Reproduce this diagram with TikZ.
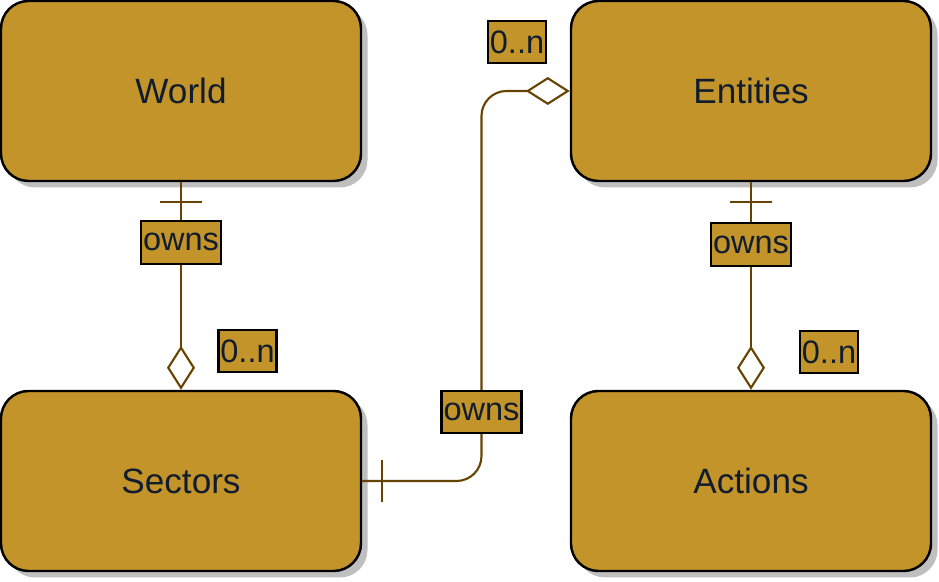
\documentclass[tikz,border=0pt]{standalone}
\usepackage{fontspec}
\setmainfont{Liberation Sans}
\usetikzlibrary{positioning, arrows.meta, shadows}
\definecolor{gold}{HTML}{C39429}
\definecolor{erbrown}{HTML}{664400}
\definecolor{ink}{HTML}{111D2E}

\begin{document}
\begin{tikzpicture}[
    entity/.style={rectangle, rounded corners=0.55cm, draw=black, line width=1.4pt, fill=gold,
        minimum width=7.2cm, minimum height=3.6cm, text=ink, font=\fontsize{20}{24}\selectfont,
        drop shadow={shadow xshift=0.13cm, shadow yshift=-0.13cm, fill=black!25, opacity=1}},
    lbl/.style={rectangle, draw=black, line width=1.3pt, fill=gold, text=ink,
        font=\fontsize{18.5}{22}\selectfont, inner xsep=0.04cm, inner ysep=0pt, minimum height=0.85cm},
    erline/.style={draw=erbrown, line width=1.2pt},
    many/.style={-{Diamond[open, length=0.88cm, width=0.56cm]}}
]
    \useasboundingbox (0,0) rectangle (18.78,11.64);

    % Entities
    \node[entity] (World) at (3.62,9.82) {World};
    \node[entity] (Entities) at (15.02,9.82) {Entities};
    \node[entity] (Sectors) at (3.62,2.02) {Sectors};
    \node[entity] (Actions) at (15.02,2.02) {Actions};

    % Relations
    \draw[erline, many] (World.south) -- node[lbl, pos=0.29] (own1) {owns} (Sectors.north);
    \draw[erline, many] (Entities.south) -- node[lbl, pos=0.3] (own2) {owns} (Actions.north);
    \coordinate (bend) at (9.63,9.82);
    \draw[erline, many, rounded corners=0.5cm] (Sectors.east) -| (bend) -- (Entities.west);

    % one-side bars
    \draw[erline] ([xshift=-0.42cm, yshift=-0.4cm]World.south) -- ([xshift=0.42cm, yshift=-0.4cm]World.south);
    \draw[erline] ([xshift=-0.42cm, yshift=-0.4cm]Entities.south) -- ([xshift=0.42cm, yshift=-0.4cm]Entities.south);
    \draw[erline] ([xshift=0.4cm, yshift=0.42cm]Sectors.east) -- ([xshift=0.4cm, yshift=-0.42cm]Sectors.east);

    % Labels
    \node[lbl] (own3) at (9.63,3.4) {owns};
    \node[lbl] (card1) at (4.95,4.62) {0..n};
    \node[lbl] (card2) at (16.58,4.6) {0..n};
    \node[lbl] (card3) at (10.34,10.8) {0..n};
\end{tikzpicture}
\end{document}
